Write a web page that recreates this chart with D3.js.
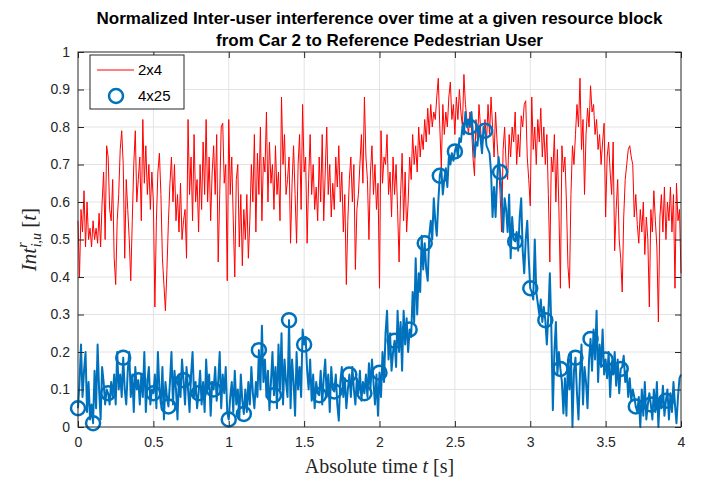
<!DOCTYPE html>
<html>
<head>
<meta charset="utf-8">
<script src="https://cdn.jsdelivr.net/npm/d3@7"></script>
<style>
  body { margin: 0; background: #fff; }
</style>
</head>
<body>
<div class="chart"></div>
<script>
// sampled every 10 ms, 0 .. 4 s
let dt = 0.01
let xTicks = [0, 0.5, 1, 1.5, 2, 2.5, 3, 3.5, 4]
let yTicks = [0, 0.1, 0.2, 0.3, 0.4, 0.5, 0.6, 0.7, 0.8, 0.9, 1]
let seriesNames = ["2x4", "4x25"]

// 2x4 configuration (red)
let red2x4 = [
  .55,.40,.58,.52,.63,.48,.60,.50,.53,.48,
  .55,.50,.53,.49,.57,.48,.60,.68,.50,.75,
  .72,.58,.55,.66,.45,.38,.55,.62,.74,.79,
  .70,.45,.66,.58,.50,.39,.55,.70,.79,.60,
  .66,.72,.55,.82,.65,.75,.62,.70,.58,.68,
  .60,.32,.55,.68,.73,.62,.45,.38,.31,.42,
  .55,.65,.72,.60,.70,.55,.62,.52,.65,.50,
  .55,.58,.45,.82,.62,.72,.55,.78,.60,.66,
  .52,.70,.58,.76,.62,.82,.60,.72,.55,.68,
  .75,.62,.78,.44,.62,.80,.81,.65,.70,.39,
  .82,.62,.72,.55,.40,.66,.70,.48,.62,.43,
  .58,.50,.62,.45,.55,.70,.60,.78,.52,.73,
  .62,.80,.55,.72,.68,.84,.60,.76,.65,.70,
  .58,.75,.62,.68,.55,.88,.70,.78,.62,.66,
  .72,.49,.65,.75,.62,.49,.70,.78,.58,.86,
  .68,.72,.49,.66,.78,.62,.70,.58,.64,.55,
  .72,.60,.78,.55,.68,.80,.62,.70,.56,.65,
  .58,.72,.64,.75,.60,.68,.52,.62,.38,.55,
  .66,.72,.60,.70,.42,.58,.62,.70,.78,.65,
  .88,.72,.66,.50,.68,.75,.62,.70,.58,.65,
  .37,.79,.65,.72,.70,.78,.62,.68,.56,.72,
  .62,.70,.58,.44,.62,.73,.55,.68,.52,.60,
  .72,.66,.78,.70,.75,.68,.80,.72,.78,.74,
  .82,.76,.85,.78,.86,.80,.84,.82,.88,.93,
  .80,.69,.86,.78,.84,.80,.88,.92,.82,.86,
  .78,.88,.82,.90,.84,.80,.94,.86,.82,.78,
  .84,.80,.72,.67,.82,.76,.86,.80,.74,.78,
  .82,.76,.86,.78,.88,.80,.72,.84,.76,.70,
  .62,.52,.74,.80,.70,.66,.78,.72,.80,.76,
  .84,.70,.78,.72,.83,.80,.86,.87,.72,.66,
  .59,.88,.74,.80,.70,.82,.76,.85,.72,.80,
  .70,.78,.62,.44,.72,.68,.78,.60,.74,.58,
  .37,.75,.68,.72,.60,.43,.37,.62,.75,.70,
  .78,.86,.80,.93,.74,.82,.62,.78,.85,.80,
  .91,.84,.86,.78,.82,.74,.78,.70,.76,.81,
  .56,.72,.76,.68,.62,.76,.47,.58,.66,.50,
  .45,.36,.56,.66,.70,.74,.75,.72,.70,.56,
  .62,.54,.49,.58,.52,.60,.46,.56,.50,.32,
  .58,.52,.63,.55,.48,.28,.56,.62,.52,.64,
  .50,.60,.55,.64,.52,.62,.37,.65,.55,.58,
  .41
]

// 4x25 configuration (blue), circle every 10th sample
let blue4x25 = [
  .05,.12,.22,.08,.15,.20,.04,.12,.02,.06,
  .01,.15,.05,.22,.10,.02,.16,.12,.06,.10,
  .09,.06,.12,.08,.14,.06,.20,.10,.14,.08,
  .185,.10,.06,.15,.20,.08,.14,.04,.16,.10,
  .125,.06,.14,.08,.20,.04,.12,.16,.06,.10,
  .09,.14,.05,.20,.10,.06,.16,.02,.12,.08,
  .055,.12,.20,.06,.15,.10,.02,.14,.08,.18,
  .125,.06,.16,.10,.04,.14,.20,.08,.12,.05,
  .09,.15,.06,.12,.04,.18,.10,.14,.03,.12,
  .10,.16,.07,.12,.20,.05,.14,.09,.16,.04,
  .02,.08,.12,.04,.15,.06,.10,.02,.14,.07,
  .035,.10,.04,.12,.06,.16,.09,.05,.12,.08,
  .205,.10,.27,.12,.18,.08,.15,.045,.12,.20,
  .085,.16,.05,.22,.10,.25,.06,.18,.12,.08,
  .285,.05,.18,.12,.03,.20,.10,.16,.08,.26,
  .22,.24,.15,.10,.18,.07,.14,.05,.12,.09,
  .085,.15,.06,.13,.18,.08,.14,.04,.16,.10,
  .095,.14,.06,.017,.12,.16,.08,.13,.05,.10,
  .14,.08,.16,.10,.06,.13,.09,.15,.07,.12,
  .09,.14,.08,.17,.10,.18,.12,.06,.14,.03,
  .145,.08,.20,.12,.25,.31,.18,.25,.15,.20,
  .23,.16,.31,.20,.28,.15,.31,.22,.29,.20,
  .26,.24,.36,.28,.45,.30,.41,.36,.51,.42,
  .49,.42,.39,.51,.55,.50,.61,.55,.51,.60,
  .67,.69,.62,.66,.69,.64,.72,.70,.73,.71,
  .735,.75,.72,.77,.76,.80,.78,.84,.80,.82,
  .80,.84,.78,.72,.76,.75,.80,.77,.73,.80,
  .79,.75,.74,.73,.68,.56,.64,.56,.66,.72,
  .68,.62,.52,.61,.58,.52,.62,.45,.56,.50,
  .495,.52,.47,.56,.61,.47,.41,.50,.55,.45,
  .37,.36,.34,.50,.36,.33,.30,.34,.28,.32,
  .285,.22,.30,.41,.26,.045,.20,.28,.14,.20,
  .155,.12,.036,.13,.03,.18,.10,.20,.00,.15,
  .185,.09,.02,.14,.22,.06,.16,.12,.05,.18,
  .235,.15,.26,.18,.31,.12,.22,.16,.26,.14,
  .18,.13,.20,.08,.17,.14,.20,.11,.18,.09,
  .155,.16,.19,.12,.15,.08,.13,.07,.10,.08,
  .055,.04,.08,.00,.10,.03,.12,.02,.06,.09,
  .06,.02,.10,.04,.12,.00,.08,.05,.11,.03,
  .07,.10,.02,.09,.04,.12,.06,.01,.08,.13,
  .14
]
let markerEvery = 10

let width = 712, height = 481
let plotLeft = 78, plotRight = 681, plotTop = 52, plotBottom = 427

let svg = d3.select(".chart")
  .append("svg")
  .attr("width", width)
  .attr("height", height)
  .style("font-family", "'Liberation Sans', Arial, sans-serif")

let x = d3.scaleLinear().domain([0, 4]).range([plotLeft, plotRight])
let y = d3.scaleLinear().domain([0, 1]).range([plotBottom, plotTop])

// grid
svg.append("g")
  .selectAll("line")
  .data(xTicks.slice(1, -1))
  .enter()
  .append("line")
  .attr("x1", d => x(d)).attr("x2", d => x(d))
  .attr("y1", plotTop).attr("y2", plotBottom)
  .attr("stroke", "#e3e3e3")
svg.append("g")
  .selectAll("line")
  .data(yTicks.slice(1, -1))
  .enter()
  .append("line")
  .attr("y1", d => y(d)).attr("y2", d => y(d))
  .attr("x1", plotLeft).attr("x2", plotRight)
  .attr("stroke", "#e3e3e3")

// lines
let line = d3.line()
  .x((d, i) => x(i * dt))
  .y(d => y(d))

svg.append("path")
  .datum(red2x4)
  .attr("d", line)
  .attr("fill", "none")
  .attr("stroke", "#ff0000")
  .attr("stroke-width", 1)

svg.append("path")
  .datum(blue4x25)
  .attr("d", line)
  .attr("fill", "none")
  .attr("stroke", "#0072bd")
  .attr("stroke-width", 2)
  .attr("stroke-linejoin", "round")

let markers = blue4x25
  .map((v, i) => ({ t: i * dt, v: v, i: i }))
  .filter(d => d.i % markerEvery === 0 && d.i < 400)

svg.append("g")
  .selectAll("circle")
  .data(markers)
  .enter()
  .append("circle")
  .attr("cx", d => x(d.t))
  .attr("cy", d => y(d.v))
  .attr("r", 7)
  .attr("fill", "none")
  .attr("stroke", "#0072bd")
  .attr("stroke-width", 2.5)

// axes (ticks pointing inward, box on)
let styleAxis = g => {
  g.attr("font-family", null).attr("font-size", null)
  g.select(".domain").remove()
  g.selectAll(".tick line").attr("stroke", "#262626")
  g.selectAll(".tick text").attr("fill", "#262626").style("font-size", "14px")
}
svg.append("g")
  .attr("transform", `translate(0,${plotBottom})`)
  .call(d3.axisBottom(x).tickValues(xTicks).tickSize(-6).tickPadding(10).tickFormat(d3.format("")))
  .call(styleAxis)
svg.append("g")
  .attr("transform", `translate(0,${plotTop})`)
  .call(d3.axisTop(x).tickValues(xTicks).tickSize(-6).tickFormat(""))
  .call(styleAxis)
svg.append("g")
  .attr("transform", `translate(${plotLeft},0)`)
  .call(d3.axisLeft(y).tickValues(yTicks).tickSize(-6).tickPadding(8).tickFormat(d3.format("")))
  .call(styleAxis)
svg.append("g")
  .attr("transform", `translate(${plotRight},0)`)
  .call(d3.axisRight(y).tickValues(yTicks).tickSize(-6).tickFormat(""))
  .call(styleAxis)

svg.append("rect")
  .attr("x", plotLeft).attr("y", plotTop)
  .attr("width", plotRight - plotLeft).attr("height", plotBottom - plotTop)
  .attr("fill", "none")
  .attr("stroke", "#262626")
  .attr("stroke-width", 1)

// legend
let lg = svg.append("g").attr("transform", "translate(90,55)")
lg.append("rect")
  .attr("width", 94).attr("height", 54)
  .attr("fill", "#fff")
  .attr("stroke", "#262626")
lg.append("line")
  .attr("x1", 7).attr("x2", 44).attr("y1", 15).attr("y2", 15)
  .attr("stroke", "#ff0000")
lg.append("circle")
  .attr("cx", 26).attr("cy", 41).attr("r", 7)
  .attr("fill", "none").attr("stroke", "#0072bd").attr("stroke-width", 2.5)
lg.selectAll("text")
  .data(seriesNames)
  .enter()
  .append("text")
  .attr("x", 48)
  .attr("y", (d, i) => 20 + i * 26)
  .style("font-size", "15px")
  .attr("fill", "#000")
  .text(d => d)

// title
let title = svg.append("text")
  .attr("text-anchor", "middle")
  .style("font-size", "17px")
  .style("font-weight", "bold")
  .attr("fill", "#000")
title.append("tspan").attr("x", (plotLeft + plotRight) / 2).attr("y", 24)
  .text("Normalized Inter-user interference over time at a given resource block")
title.append("tspan").attr("x", (plotLeft + plotRight) / 2).attr("y", 46)
  .text("from Car 2 to Reference Pedestrian User")

// x label
let xl = svg.append("text")
  .attr("x", (plotLeft + plotRight) / 2)
  .attr("y", 473)
  .attr("text-anchor", "middle")
  .style("font-family", "'Liberation Serif', 'Times New Roman', serif")
  .style("font-size", "20px")
  .attr("fill", "#262626")
xl.append("tspan").text("Absolute time ")
xl.append("tspan").style("font-style", "italic").text("t")
xl.append("tspan").text(" [s]")

// y label
let yl = svg.append("text")
  .attr("transform", `translate(36,${(plotTop + plotBottom) / 2}) rotate(-90)`)
  .attr("text-anchor", "middle")
  .style("font-family", "'Liberation Serif', 'Times New Roman', serif")
  .style("font-size", "21px")
  .attr("fill", "#262626")
yl.append("tspan").style("font-style", "italic").text("Int")
yl.append("tspan").style("font-style", "italic").style("font-size", "14px").attr("dy", -9).text("r")
yl.append("tspan").style("font-style", "italic").style("font-size", "14px").attr("dx", -5).attr("dy", 14).text("i,u")
yl.append("tspan").attr("dy", -5).text(" [")
yl.append("tspan").style("font-style", "italic").text("t")
yl.append("tspan").text("]")
</script>
</body>
</html>
